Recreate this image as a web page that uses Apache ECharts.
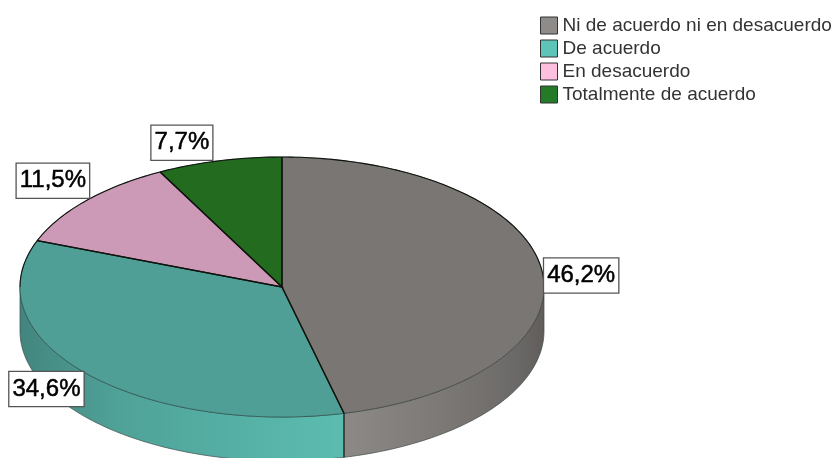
<!DOCTYPE html>
<html>
<head>
<meta charset="utf-8">
<style>
  html, body { margin: 0; padding: 0; background: #fff; }
  #chart { width: 836px; height: 458px; }
</style>
<script src="https://cdn.jsdelivr.net/npm/echarts@6/dist/echarts.min.js"></script>
</head>
<body>
<div id="chart"></div>
<script>
const categories = ["Ni de acuerdo ni en desacuerdo", "De acuerdo", "En desacuerdo", "Totalmente de acuerdo"];
const percentages = [46.2, 34.6, 11.5, 7.7];
const topColors = ["#7a7673", "#4f9f96", "#cc9ab6", "#226b1f"];
const legendColors = ["#8f8b88", "#5fc4b8", "#fdbfdd", "#247a26"];

// pie geometry
const cx = 282, cy = 287, rx = 262, ry = 130, depth = 44;
const labelNudge = [[2, 4], [-2, -1], [3, -3], [-7, -1]];
const total = percentages.reduce((a, b) => a + b, 0);

function toPoint(deg, dy) {
  const r = (deg * Math.PI) / 180;
  return [cx + rx * Math.sin(r), cy - ry * Math.cos(r) + (dy || 0)];
}

function arcPoints(from, to, dy) {
  const pts = [];
  const n = Math.max(2, Math.ceil(Math.abs(to - from)));
  for (let i = 0; i <= n; i++) pts.push(toPoint(from + ((to - from) * i) / n, dy));
  return pts;
}

function wallFill(index, from, to) {
  const stops = index === 0
    ? [{ offset: 0, color: "#605d5b" }, { offset: 0.15, color: "#6c6a68" }, { offset: 0.5, color: "#7c7876" }, { offset: 1, color: "#8d8987" }]
    : [{ offset: 0, color: "#5cbcb0" }, { offset: 0.7, color: "#4fa298" }, { offset: 1, color: "#42857e" }];
  return new echarts.graphic.LinearGradient(toPoint(from)[0], 0, toPoint(to)[0], 0, stops, true);
}

function line(points, z2, stroke, lineWidth) {
  return { type: "polyline", z2, shape: { points }, style: { fill: null, stroke, lineWidth } };
}

function renderSlice(index, params, api) {
  const before = percentages.slice(0, index).reduce((a, b) => a + b, 0);
  const start = (before / total) * 360;
  const end = start + (api.value(0) / total) * 360;
  const mid = (start + end) / 2;
  const children = [];

  // side wall, only the front half of the pie shows it
  const wallFrom = Math.max(start, 90), wallTo = Math.min(end, 270);
  if (wallTo > wallFrom) {
    const points = arcPoints(wallFrom, wallTo, 0).concat(arcPoints(wallTo, wallFrom, depth));
    children.push({
      type: "polygon",
      z2: 1,
      shape: { points },
      style: { fill: wallFill(index, wallFrom, wallTo), stroke: "#3c4a48", lineWidth: 0.7 }
    });
    if (wallFrom > 90) children.push(line([toPoint(wallFrom), toPoint(wallFrom, depth)], 2, "#10201e", 1));
  }

  children.push({
    type: "polygon",
    z2: 2,
    shape: { points: [[cx, cy]].concat(arcPoints(start, end, 0)) },
    style: { fill: topColors[index] }
  });

  // rim is only faint along the front, solid along the back and the radial cuts
  children.push(line(arcPoints(start, end, 0), 3, "rgba(20,40,40,0.55)", 0.8));
  if (end > 270) children.push(line(arcPoints(Math.max(start, 270), end, 0), 3, "#10140f", 1.1));
  if (start < 90) children.push(line(arcPoints(start, Math.min(end, 90), 0), 3, "#10140f", 1.1));
  children.push(line([toPoint(start), [cx, cy], toPoint(end)], 4, "#10140f", 1.3));

  // label box hangs off the rim at the middle of the slice
  const anchor = toPoint(mid);
  const cos = Math.cos((mid * Math.PI) / 180);
  const sin = Math.sin((mid * Math.PI) / 180);
  children.push({
    type: "text",
    z2: 5,
    x: anchor[0] + labelNudge[index][0],
    y: anchor[1] + labelNudge[index][1],
    style: {
      text: api.value(0).toFixed(1).replace(".", ",") + "%",
      fontFamily: "Liberation Sans",
      fontSize: 24,
      fill: "#000",
      stroke: "#000",
      lineWidth: 0.5,
      align: sin > 0 ? "left" : "right",
      verticalAlign: Math.abs(cos) < 0.3 ? "middle" : cos > 0 ? "bottom" : "top",
      backgroundColor: "#fff",
      borderColor: "#555",
      borderWidth: 1.3,
      padding: [5, 3, 5, 3]
    }
  });
  return { type: "group", children };
}

const chart = echarts.init(document.getElementById("chart"));
chart.setOption({
  animation: false,
  backgroundColor: "#fff",
  legend: {
    orient: "vertical",
    left: 535,
    top: 11,
    itemWidth: 17,
    itemHeight: 17,
    itemGap: 4,
    icon: "rect",
    selectedMode: false,
    textStyle: { fontFamily: "Liberation Sans", fontSize: 19, lineHeight: 17, color: "#333", padding: [0, 0, 0, 0] },
    data: categories.map((name, i) => ({
      name,
      itemStyle: { color: legendColors[i], borderColor: "#333", borderWidth: 1 }
    }))
  },
  series: categories.map((name, i) => ({
    type: "custom",
    name,
    coordinateSystem: "none",
    silent: true,
    itemStyle: { color: legendColors[i] },
    renderItem: (params, api) => renderSlice(i, params, api),
    data: [[percentages[i]]]
  }))
});
</script>
</body>
</html>
